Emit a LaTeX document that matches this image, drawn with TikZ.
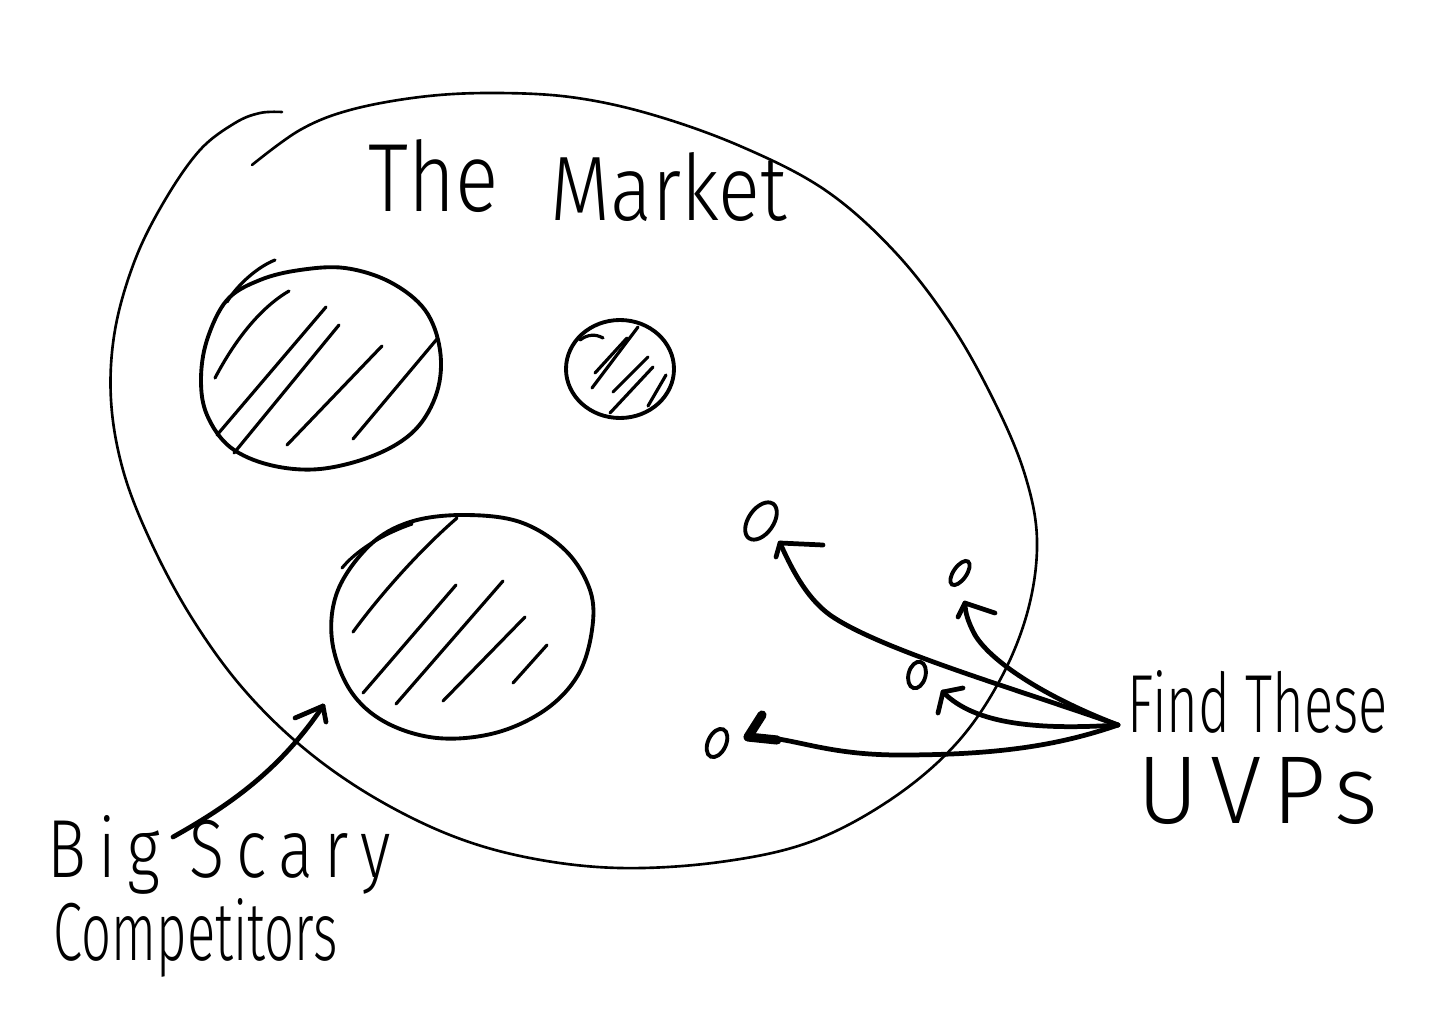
\documentclass[tikz,border=0pt]{standalone}
\usepackage{fontspec}
\usepackage{graphicx}
\newfontfamily\hand{Fira Sans Light}
\usetikzlibrary{shapes.geometric}
\begin{document}
\begin{tikzpicture}[x=0.01cm,y=-0.01cm,
  outline/.style={line width=0.75pt,line cap=round,line join=round},
  blob/.style={line width=1.1pt,line cap=round,line join=round},
  hatch/.style={line width=0.9pt,line cap=round},
  arr/.style={line width=1.35pt,line cap=round,line join=round},
  uvp/.style={draw,ellipse,inner sep=0pt,outer sep=0pt,line width=1.1pt},
  lbl/.style={inner sep=0pt,font=\hand}]
\useasboundingbox[fill=white] (0,0) rectangle (1442,1015);

% the market outline
\draw[outline] plot[smooth,tension=0.6] coordinates {
 (252,165) (300,130) (350,110) (420,97) (490,93) (570,97) (650,114) (740,146)
 (825,190) (895,252) (952,326) (996,405) (1025,475) (1037,540) (1028,610)
 (1000,680) (955,745) (890,800) (810,842) (720,862) (620,868) (530,858)
 (450,835) (370,795) (300,745) (240,685) (190,615) (150,540) (123,470)
 (111,400) (115,330) (135,260) (165,200) (200,150) (235,123) (260,113) (282,112)};

% competitor 1
\draw[blob] plot[smooth cycle,tension=0.6] coordinates {
 (227,300) (260,280) (300,270) (345,268) (390,282) (425,310) (440,350) (437,392)
 (415,430) (375,455) (320,469) (270,465) (230,447) (207,415) (201,380) (207,340)};
\draw[hatch] (227,302) .. controls (235,288) and (255,268) .. (275,260);
\draw[hatch] (215,378) .. controls (235,340) and (260,308) .. (289,291);
\draw[hatch] (217,435) -- (326,307);
\draw[hatch] (234,453) -- (339,325);
\draw[hatch] (287,445) -- (382,346);
\draw[hatch] (353,439) -- (437,339);

% competitor 2
\draw[blob] (620,369) ellipse [x radius=54, y radius=49];
\draw[hatch] (580,340) .. controls (588,334) and (596,334) .. (603,338);
\draw[hatch] (592,388) -- (638,327);
\draw[hatch] (595,373) -- (627,338);
\draw[hatch] (613,392) -- (648,357);
\draw[hatch] (610,413) -- (653,367);
\draw[hatch] (648,406) -- (666,375);

% competitor 3
\draw[blob] plot[smooth cycle,tension=0.6] coordinates {
 (463,515) (520,522) (565,550) (590,590) (592,630) (578,675) (545,710) (495,733)
 (437,738) (385,722) (350,690) (332,640) (338,590) (370,545) (410,522)};
\draw[hatch] (342,568) .. controls (355,552) and (380,535) .. (412,524);
\draw[hatch] (353,632) .. controls (380,595) and (420,550) .. (457,518);
\draw[hatch] (363,693) -- (456,585);
\draw[hatch] (396,704) -- (503,581);
\draw[hatch] (443,701) -- (525,617);
\draw[hatch] (513,683) -- (547,645);

% labels
\node[lbl,anchor=base west] (the) at (368,212) {\resizebox{1.3cm}{0.72cm}{The}};
\node[lbl,anchor=base west] (market) at (550,220) {\resizebox{2.36cm}{0.68cm}{Market}};
\node[lbl,anchor=base west] (big) at (47,877) {\resizebox{3.43cm}{0.62cm}{\addfontfeature{LetterSpace=18}Big Scary}};
\node[lbl,anchor=base west] (comp) at (53,960) {\resizebox{2.84cm}{0.62cm}{Competitors}};
\node[lbl,anchor=base west] (find) at (1127,732) {\resizebox{2.6cm}{0.62cm}{Find These}};
\node[lbl,anchor=base west] (uvps) at (1137,823) {\resizebox{2.4cm}{0.66cm}{\addfontfeature{LetterSpace=12}UVPs}};

% UVP marks
\node[uvp,minimum width=0.42cm,minimum height=0.25cm,rotate=55] (o1) at (761,521) {};
\node[uvp,minimum width=0.28cm,minimum height=0.13cm,rotate=55] (o2) at (960,573) {};
\node[uvp,minimum width=0.27cm,minimum height=0.17cm,rotate=75] (o3) at (917,675) {};
\node[uvp,minimum width=0.30cm,minimum height=0.18cm,rotate=65] (o4) at (717,743) {};

% arrows to UVPs
\coordinate (src) at (1118,725);
\coordinate (t1) at (780,543);
\coordinate (t2) at (965,603);
\coordinate (t3) at (943,692);
\coordinate (t4) at (748,737);
\draw[arr] (src) .. controls (1020,690) and (880,650) .. (830,615)
           .. controls (805,597) and (790,565) .. (t1);
\draw[arr] (t1) -- (823,545) (t1) -- (776,557);
\draw[arr] (src) .. controls (1040,695) and (990,660) .. (975,635)
           .. controls (968,622) and (965,612) .. (t2);
\draw[arr] (t2) -- (995,613) (t2) -- (958,617);
\draw[arr] (src) .. controls (1040,730) and (975,725) .. (t3);
\draw[arr] (t3) -- (963,688) (t3) -- (938,713);
\draw[arr] (src) .. controls (1060,745) and (1000,755) .. (900,755)
           .. controls (820,755) and (790,735) .. (t4);
\draw[arr,line width=2.6pt] (t4) -- (762,715) (t4) -- (777,740);

% arrow to competitors
\coordinate (bs) at (173,837);
\coordinate (tb) at (323,706);
\draw[arr] (bs) .. controls (230,805) and (280,770) .. (tb);
\draw[arr] (tb) -- (295,718) (tb) -- (326,722);
\end{tikzpicture}
\end{document}
